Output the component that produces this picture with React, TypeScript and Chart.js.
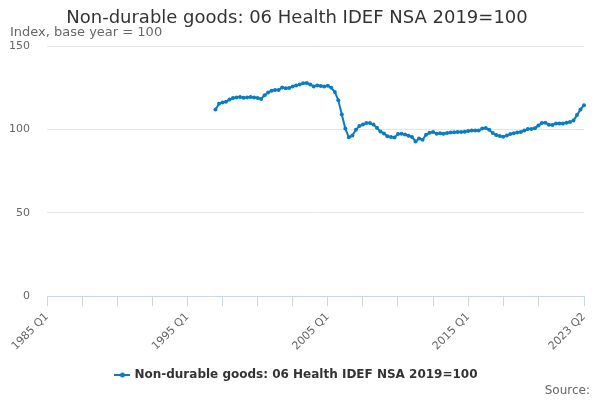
import { useEffect, useRef } from 'react';
import Chart from 'chart.js/auto';

// quarter labels 1985 Q1 .. 2023 Q2
const firstYear = 1985;
const lastYear = 2023;
const lastQuarter = 2;
const quarterLabels: string[] = [];
for (let y = firstYear; y <= lastYear; y++) {
  for (let q = 1; q <= 4; q++) {
    if (y === lastYear && q > lastQuarter) break;
    quarterLabels.push(`${y} Q${q}`);
  }
}

// series begins in 1997 Q1
const seriesStart = '1997 Q1';
const healthValues = [
  112.0, 115.4, 116.1, 116.6, 117.9, 118.8, 119.1, 119.4, 119.0, 119.2,
  119.5, 119.1, 118.8, 118.3, 120.5, 122.1, 123.2, 123.6, 123.6, 125.1,
  124.7, 124.8, 125.8, 126.4, 127.0, 127.7, 127.8, 127.0, 125.8, 126.4,
  126.1, 125.8, 126.2, 125.0, 122.5, 117.5, 109.0, 100.5, 95.3, 96.3,
  99.8, 102.0, 102.9, 103.8, 103.8, 102.9, 101.0, 98.7, 97.6, 95.9,
  95.5, 95.2, 97.2, 97.4, 97.0, 96.2, 95.5, 92.8, 94.6, 93.8,
  96.8, 98.0, 98.5, 97.4, 97.7, 97.4, 97.8, 98.2, 98.3, 98.5,
  98.4, 98.6, 99.0, 99.4, 99.4, 99.3, 100.5, 100.8, 99.8, 97.8,
  96.6, 96.0, 95.6, 96.3, 97.2, 97.7, 98.1, 98.5, 99.3, 100.2,
  100.3, 100.7, 102.3, 103.9, 104.0, 102.8, 102.6, 103.5, 103.6, 103.6,
  104.0, 104.4, 105.3, 108.6, 112.0, 114.5,
];
const labelledQuarters = ['1985 Q1', '1995 Q1', '2005 Q1', '2015 Q1', '2023 Q2'];

const seriesName = 'Non-durable goods: 06 Health IDEF NSA 2019=100';
const lineColor = '#0b7cc2';
const font = '"DejaVu Sans", sans-serif';

const sourcePlugin = {
  id: 'sourceText',
  afterDraw(chart: any) {
    const { ctx, width, height } = chart;
    ctx.save();
    ctx.font = `12px ${font}`;
    ctx.fillStyle = '#666666';
    ctx.textAlign = 'right';
    ctx.textBaseline = 'alphabetic';
    ctx.fillText('Source:', width - 10, height - 6);
    ctx.restore();
  },
};

// little line + dot for the legend
function legendIcon() {
  const c = document.createElement('canvas');
  c.width = 16;
  c.height = 8;
  const g = c.getContext('2d')!;
  g.strokeStyle = lineColor;
  g.lineWidth = 2;
  g.beginPath();
  g.moveTo(0, 4);
  g.lineTo(16, 4);
  g.stroke();
  g.fillStyle = lineColor;
  g.beginPath();
  g.arc(8, 4, 2.5, 0, Math.PI * 2);
  g.fill();
  return c;
}

const App = () => {
  const canvasRef = useRef<HTMLCanvasElement | null>(null);
  const chartRef = useRef<Chart | null>(null);

  useEffect(() => {
    document.body.style.margin = '0';
    if (!canvasRef.current) return;
    const ctx = canvasRef.current.getContext('2d');
    if (!ctx) return;

    const startIdx = quarterLabels.indexOf(seriesStart);
    const data = quarterLabels.map((_, i) =>
      i >= startIdx && i - startIdx < healthValues.length ? healthValues[i - startIdx] : null
    );
    const lastIdx = quarterLabels.length - 1;
    const icon = legendIcon();

    chartRef.current = new Chart(ctx, {
      type: 'line',
      data: {
        labels: quarterLabels,
        datasets: [
          {
            label: seriesName,
            data,
            borderColor: lineColor,
            backgroundColor: lineColor,
            borderWidth: 2,
            pointStyle: 'circle',
            pointRadius: 2,
            pointHoverRadius: 3,
            pointBorderWidth: 0,
            tension: 0,
          },
        ],
      },
      options: {
        animation: false,
        responsive: true,
        maintainAspectRatio: false,
        layout: { padding: { left: 10, right: 16, top: 4, bottom: 9 } },
        plugins: {
          title: {
            display: true,
            text: 'Non-durable goods: 06 Health IDEF NSA 2019=100',
            color: '#333333',
            font: { family: font, size: 18, weight: 'normal', lineHeight: 16 / 18 },
            padding: { top: 6, bottom: 0 },
          },
          subtitle: {
            display: true,
            text: 'Index, base year = 100',
            align: 'start',
            color: '#666666',
            font: { family: font, size: 13, lineHeight: 1 },
            padding: { top: 0, bottom: 7 },
          },
          legend: {
            position: 'bottom',
            labels: {
              color: '#333333',
              font: { family: font, size: 12, weight: 'bold' },
              usePointStyle: true,
              padding: 12,
              generateLabels: () => [
                {
                  text: seriesName,
                  pointStyle: icon,
                  fillStyle: lineColor,
                  strokeStyle: lineColor,
                  lineWidth: 0,
                  hidden: false,
                  datasetIndex: 0,
                  fontColor: '#333333',
                },
              ],
            },
          },
          tooltip: { enabled: false },
        },
        scales: {
          x: {
            type: 'category',
            grid: {
              drawOnChartArea: false,
              drawTicks: true,
              tickLength: 10,
              color: '#ccd6eb',
            },
            border: { color: '#ccd6eb' },
            ticks: {
              autoSkip: false,
              maxRotation: 45,
              minRotation: 45,
              color: '#666666',
              font: { family: font, size: 11 },
              padding: 4,
              callback: (_v: any, index: number) => {
                const lab = quarterLabels[index];
                if (labelledQuarters.includes(lab)) return lab;
                if (index % 10 === 0 && index < lastIdx - 10) return '';
                return null;
              },
            },
          },
          y: {
            min: 0,
            max: 150,
            grid: { color: '#e6e6e6', drawTicks: false },
            border: { display: false },
            afterFit: (scale: any) => {
              scale.width = 37;
            },
            ticks: {
              stepSize: 50,
              color: '#666666',
              font: { family: font, size: 11 },
              padding: 17,
            },
          },
        },
      },
      plugins: [sourcePlugin],
    });

    return () => {
      if (chartRef.current) {
        chartRef.current.destroy();
      }
    };
  }, []);

  return (
    <div style={{ width: '600px', height: '400px', position: 'relative' }}>
      <canvas ref={canvasRef} />
    </div>
  );
};

export default App;
